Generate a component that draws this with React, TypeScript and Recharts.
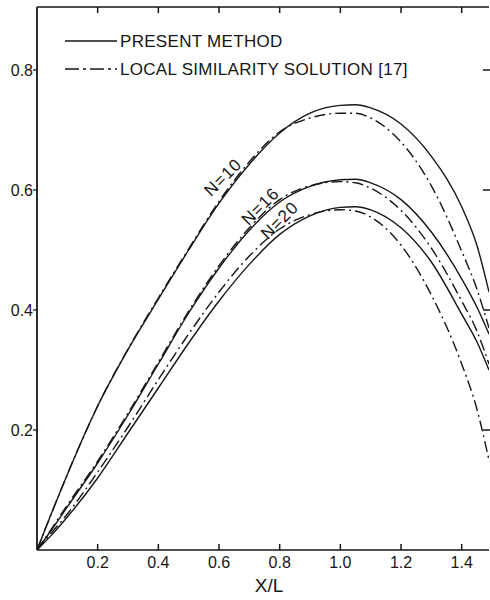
import React from 'react';
import { LineChart, Line, XAxis, YAxis, Legend } from 'recharts';

const xValues = [0, 0.05, 0.1, 0.2, 0.3, 0.4, 0.5, 0.6, 0.7, 0.8, 0.9, 1.0, 1.05, 1.1, 1.2, 1.3, 1.4, 1.45, 1.49];
const presentN10 = [0, 0.064, 0.126, 0.24, 0.334, 0.418, 0.5, 0.578, 0.643, 0.695, 0.728, 0.741, 0.742, 0.737, 0.71, 0.656, 0.572, 0.508, 0.43];
const localN10 = [0, 0.064, 0.126, 0.24, 0.335, 0.42, 0.502, 0.581, 0.647, 0.697, 0.72, 0.728, 0.728, 0.72, 0.68, 0.607, 0.498, 0.435, 0.37];
const presentN16 = [0, 0.035, 0.072, 0.145, 0.225, 0.31, 0.395, 0.47, 0.533, 0.58, 0.606, 0.617, 0.618, 0.612, 0.584, 0.53, 0.452, 0.405, 0.36];
const localN16 = [0, 0.037, 0.075, 0.148, 0.228, 0.313, 0.398, 0.474, 0.537, 0.584, 0.607, 0.614, 0.612, 0.603, 0.566, 0.503, 0.415, 0.365, 0.31];
const presentN20 = [0, 0.026, 0.055, 0.12, 0.195, 0.27, 0.345, 0.415, 0.476, 0.526, 0.557, 0.571, 0.572, 0.567, 0.537, 0.48, 0.393, 0.347, 0.3];
const localN20 = [0, 0.03, 0.06, 0.13, 0.205, 0.284, 0.36, 0.43, 0.49, 0.535, 0.559, 0.567, 0.565, 0.555, 0.508, 0.425, 0.31, 0.235, 0.15];

const xTicks = [0.2, 0.4, 0.6, 0.8, 1.0, 1.2, 1.4];
const xTickLabels = ['0.2', '0.4', '0.6', '0.8', '1.0', '1.2', '1.4'];
const yTicks = [0.2, 0.4, 0.6, 0.8];
const yTickLabels = ['0.2', '0.4', '0.6', '0.8'];
const legendLabels = ['PRESENT METHOD', 'LOCAL SIMILARITY SOLUTION [17]'];
const curveLabels = ['N=10', 'N=16', 'N=20'];
const xAxisTitle = 'X/L';

const data = xValues.map((x, i) => ({
  x,
  p10: presentN10[i],
  l10: localN10[i],
  p16: presentN16[i],
  l16: localN16[i],
  p20: presentN20[i],
  l20: localN20[i],
}));

const INK = '#161616';
const FONT = '"Liberation Sans", Arial, sans-serif';
const DASHDOT = '11 4 2 4';

const BottomTick = (props: any) => {
  const { x, y, payload } = props;
  const idx = xTicks.indexOf(payload.value);
  return (
    <g>
      <path d={`M${x},${y}L${x},${y - 6}`} stroke={INK} strokeWidth={1.5} fill="none" />
      <text x={x} y={y + 18} textAnchor="middle" fontFamily={FONT} fontSize={16} fill={INK}>
        {idx >= 0 ? xTickLabels[idx] : ''}
      </text>
    </g>
  );
};

const TopTick = (props: any) => {
  const { x, y } = props;
  return <path d={`M${x},${y}L${x},${y + 6}`} stroke={INK} strokeWidth={1.5} fill="none" />;
};

const LeftTick = (props: any) => {
  const { x, y, payload } = props;
  const idx = yTicks.indexOf(payload.value);
  return (
    <g>
      <path d={`M${x - 4},${y}L${x},${y}`} stroke={INK} strokeWidth={1.3} fill="none" />
      <text x={x - 4} y={y + 6} textAnchor="end" fontFamily={FONT} fontSize={16} fill={INK}>
        {idx >= 0 ? yTickLabels[idx] : ''}
      </text>
    </g>
  );
};

const RightTick = (props: any) => {
  const { x, y } = props;
  return <path d={`M${x - 6},${y}L${x + 1},${y}`} stroke={INK} strokeWidth={1.5} fill="none" />;
};

const makeCurveLabel = (text: string, atIndex: number, dx: number, dy: number) => (props: any) => {
  const { x, y, index } = props;
  if (index !== atIndex) return <g key={`lbl-${index}`} />;
  const cx = x + dx;
  const cy = y + dy;
  return (
    <text key={`lbl-${index}`} x={cx} y={cy} textAnchor="middle" fontFamily={FONT} fontSize={17}
      letterSpacing={1} fill={INK} transform={`rotate(-45, ${cx}, ${cy})`}>
      {text}
    </text>
  );
};

const LegendContent = () => (
  <div style={{ fontFamily: FONT, fontSize: 17, color: INK, letterSpacing: 0.3 }}>
    {legendLabels.map((lab, i) => (
      <div key={lab} style={{ display: 'flex', alignItems: 'center', height: 28 }}>
        <svg width={54} height={10} style={{ marginRight: 2 }}>
          <line x1={1} x2={53} y1={5} y2={5} stroke={INK} strokeWidth={1.4}
            strokeDasharray={i === 1 ? '14 4 3 4' : undefined} />
        </svg>
        <span style={{ whiteSpace: 'nowrap', lineHeight: '17px' }}>{lab}</span>
      </div>
    ))}
  </div>
);

export default function App() {
  return (
    <div style={{ position: 'absolute', left: 0, top: 0, width: 490, height: 600, background: '#fff' }}>
      <LineChart width={490} height={600} data={data} margin={{ top: 6, right: 0, bottom: 0, left: 0 }}>
        <XAxis dataKey="x" type="number" domain={[0, 1.49]} ticks={xTicks} interval={0} allowDataOverflow
          height={50} tickSize={0} tickMargin={0} tick={<BottomTick />}
          axisLine={{ stroke: INK, strokeWidth: 1.6 }} tickLine={false}
          label={{ value: xAxisTitle, position: 'insideBottom', offset: 8, dx: 6, fontSize: 19, fontFamily: FONT, fill: INK }} />
        <XAxis xAxisId="top" orientation="top" dataKey="x" type="number" domain={[0, 1.49]} ticks={xTicks}
          interval={0} allowDataOverflow height={1} tickSize={0} tickMargin={0} tick={<TopTick />}
          axisLine={{ stroke: INK, strokeWidth: 1.6 }} tickLine={false} />
        <YAxis type="number" domain={[0, 0.905]} ticks={yTicks} interval={0} allowDataOverflow width={37}
          tickSize={0} tickMargin={0} tick={<LeftTick />} axisLine={{ stroke: INK, strokeWidth: 1.8 }} tickLine={false} />
        <YAxis yAxisId="right" orientation="right" type="number" domain={[0, 0.905]} ticks={yTicks} interval={0}
          allowDataOverflow width={1} tickSize={0} tickMargin={0} tick={<RightTick />} axisLine={false} tickLine={false} />
        <Legend layout="vertical" align="center" verticalAlign="middle" content={<LegendContent />}
          wrapperStyle={{ top: 27, left: 64, width: 400, height: 60 }} />
        <Line type="monotone" dataKey="p10" stroke={INK} strokeWidth={1.4} dot={false} isAnimationActive={false}
          label={makeCurveLabel(curveLabels[0], 7, 8, -22)} />
        <Line type="monotone" dataKey="l10" stroke={INK} strokeWidth={1.4} strokeDasharray={DASHDOT} dot={false} isAnimationActive={false} />
        <Line type="monotone" dataKey="p16" stroke={INK} strokeWidth={1.4} dot={false} isAnimationActive={false}
          label={makeCurveLabel(curveLabels[1], 8, 15, -20)} />
        <Line type="monotone" dataKey="l16" stroke={INK} strokeWidth={1.4} strokeDasharray={DASHDOT} dot={false} isAnimationActive={false} />
        <Line type="monotone" dataKey="p20" stroke={INK} strokeWidth={1.4} dot={false} isAnimationActive={false}
          label={makeCurveLabel(curveLabels[2], 9, 4, -10)} />
        <Line type="monotone" dataKey="l20" xAxisId="top" yAxisId="right" stroke={INK} strokeWidth={1.4} strokeDasharray={DASHDOT} dot={false} isAnimationActive={false} />
      </LineChart>
    </div>
  );
}
